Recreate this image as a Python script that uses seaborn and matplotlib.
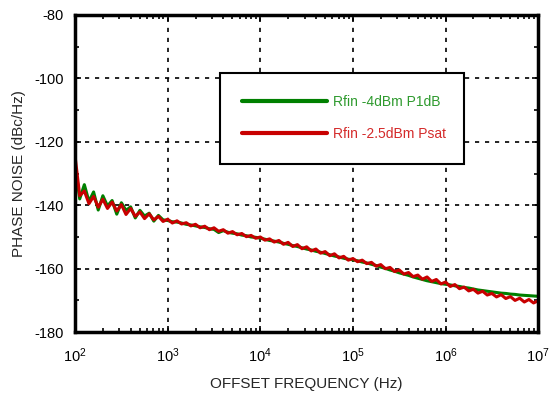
# %%
import numpy as np
import pandas as pd
import matplotlib
matplotlib.use("Agg")
import matplotlib.pyplot as plt
import seaborn as sns

# %%
# Medicion: ruido de fase vs frecuencia de offset (20 puntos por decada, 1e2..1e7)
log_offset = np.round(np.arange(2.0, 7.0001, 0.05), 2)
offset_hz = 10 ** log_offset

noise_p1db = [
    -127.0, -138.0, -133.5, -138.8, -135.8, -141.5, -137.0, -140.2, -138.5, -142.8,
    -139.2, -141.6, -140.5, -144.0, -141.6, -143.4, -142.5, -145.0, -143.2, -144.6,
    -144.8, -145.2, -145.3, -145.6, -146.0, -146.2, -146.5, -146.8, -147.0, -147.4,
    -147.6, -148.6, -148.0, -148.5, -148.8, -149.0, -149.4, -149.6, -150.0, -150.1,
    -150.4, -150.7, -151.1, -151.3, -151.6, -152.0, -152.3, -152.7, -153.0, -153.4,
    -153.8, -154.1, -154.5, -154.8, -155.2, -155.6, -156.0, -156.3, -156.7, -157.0,
    -157.2, -157.5, -157.9, -158.2, -158.6, -159.0, -159.5, -159.9, -160.4, -160.8,
    -161.3, -161.7, -162.1, -162.6, -163.0, -163.4, -163.8, -164.1, -164.4, -164.7,
    -164.9, -165.1, -165.4, -165.6, -165.9, -166.1, -166.4, -166.7, -166.9, -167.1,
    -167.3, -167.5, -167.7, -167.8, -168.0, -168.1, -168.3, -168.4, -168.5, -168.6,
    -168.7,
]

noise_psat = [
    -124.5, -137.0, -135.5, -139.5, -137.2, -140.6, -138.1, -141.0, -139.0, -141.8,
    -139.8, -142.9, -141.0, -143.5, -142.1, -144.2, -142.7, -144.6, -143.5, -145.1,
    -144.4, -145.6, -144.9, -145.9, -145.5, -146.5, -146.0, -147.1, -146.6, -147.7,
    -147.1, -148.2, -147.7, -148.8, -148.3, -149.3, -148.9, -149.9, -149.5, -150.4,
    -150.0, -151.0, -150.6, -151.6, -151.1, -152.3, -151.7, -153.0, -152.4, -153.7,
    -153.1, -154.4, -153.8, -155.1, -154.6, -155.9, -155.3, -156.6, -156.1, -157.3,
    -156.8, -157.8, -157.3, -158.4, -158.0, -159.2, -158.7, -160.0, -159.6, -160.9,
    -160.4, -161.7, -161.2, -162.5, -162.0, -163.3, -162.6, -164.0, -163.4, -164.8,
    -164.2, -165.6, -165.0, -166.3, -165.8, -167.0, -166.5, -167.7, -167.1, -168.3,
    -167.8, -168.9, -168.2, -169.4, -168.8, -170.0, -169.3, -170.5, -169.7, -170.8,
    -170.1,
]

series_names = ["Rfin -4dBm P1dB", "Rfin -2.5dBm Psat"]
line_colors = ["#008000", "#c80000"]
text_colors = ["#2e9a2e", "#d42a2a"]

df = pd.concat([
    pd.DataFrame({"offset": offset_hz, "noise": noise_p1db, "serie": series_names[0]}),
    pd.DataFrame({"offset": offset_hz, "noise": noise_psat, "serie": series_names[1]}),
])

# %%
sns.set_style("ticks")
plt.rcParams["font.family"] = ["Liberation Sans", "DejaVu Sans"]
plt.rcParams["axes.unicode_minus"] = False

fig = plt.figure(figsize=(5.52, 3.94), dpi=100)
ax = fig.add_axes([0.136, 0.157, 0.839, 0.805])

sns.lineplot(data=df, x="offset", y="noise", hue="serie",
             palette=line_colors, linewidth=2.2, ax=ax, estimator=None, sort=False)

ax.set_xscale("log")
ax.set_xlim(1e2, 1e7)
ax.set_ylim(-180, -80)
ax.set_yticks(np.arange(-180, -79, 20))
ax.set_yticks(np.arange(-170, -80, 20), minor=True)

ax.grid(True, which="major", color="black", linestyle=(0, (2.5, 3.5)), linewidth=1.2)
ax.tick_params(which="both", direction="in", top=True, right=True, labelsize=10.5,
               width=1.2, colors="black")
ax.tick_params(which="major", length=4)
ax.tick_params(axis="x", which="major", pad=10)
ax.tick_params(axis="y", which="major", pad=8)
ax.tick_params(which="minor", length=3)
for sp in ax.spines.values():
    sp.set_linewidth(2.5)
    sp.set_color("black")

ax.set_xlabel("OFFSET FREQUENCY (Hz)", fontsize=11, labelpad=9)
ax.set_ylabel("PHASE NOISE (dBc/Hz)", fontsize=11, labelpad=6)

leg = ax.legend(loc="upper left", bbox_to_anchor=(0.312, 0.530, 0.527, 0.287),
                mode="expand", borderaxespad=0, frameon=True, fancybox=False,
                fontsize=10, handlelength=6.1, handletextpad=0.5, labelspacing=1.3,
                borderpad=1.6, labelcolor=text_colors, title=None)
leg.get_frame().set_edgecolor("black")
leg.get_frame().set_linewidth(1.5)
leg.get_frame().set_alpha(1)
for h in leg.get_lines():
    h.set_linewidth(3)

fig.savefig("out.png", dpi=100)
